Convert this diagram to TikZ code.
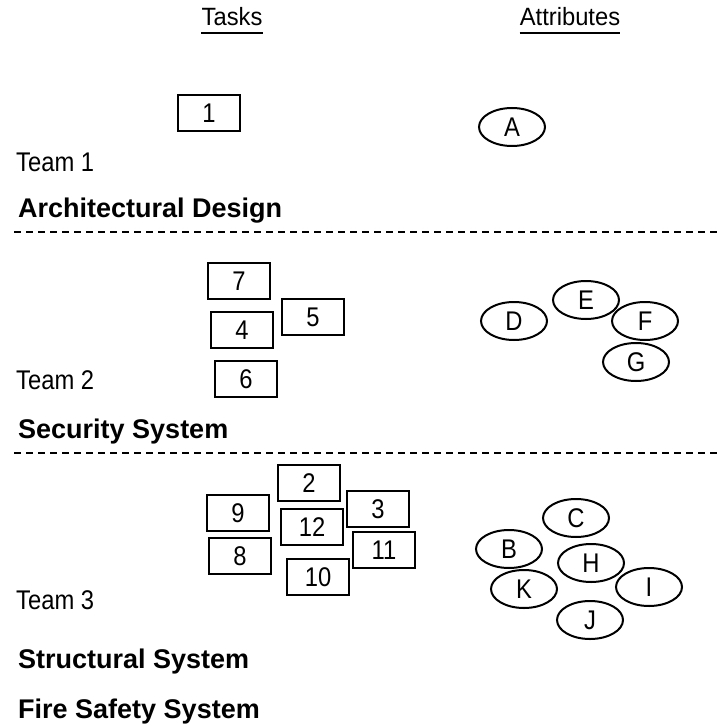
\documentclass[tikz,border=0pt]{standalone}
\usepackage{fontspec}
\setmainfont{Liberation Sans}
\newfontfamily\thinfont[FakeStretch=0.88]{Liberation Sans}
\newfontfamily\headfont[FakeStretch=0.95]{Liberation Sans}
\usetikzlibrary{shapes.geometric}
\tikzset{
  x=1pt, y=-1pt,
  task/.style={draw, line width=2pt, minimum width=62pt, minimum height=36pt, inner sep=0pt, font=\thinfont\fontsize{27}{27}\selectfont},
  attr/.style={draw, ellipse, line width=2pt, minimum width=66pt, minimum height=38pt, inner sep=0pt, font=\thinfont\fontsize{27}{27}\selectfont},
  head/.style={anchor=base, inner sep=0pt, font=\headfont\fontsize{25}{25}\selectfont},
  team/.style={anchor=base west, inner sep=0pt, font=\thinfont\fontsize{27}{27}\selectfont},
  system/.style={anchor=base west, inner sep=0pt, font=\bfseries\fontsize{27}{27}\selectfont},
  divider/.style={line width=2pt, dash pattern=on 7pt off 5pt},
  rule/.style={line width=2.5pt}
}
\begin{document}
\begin{tikzpicture}
\useasboundingbox (0,0) rectangle (721,727);

% column headings
\node[head] (tasks) at (232,26) {Tasks};
\node[head] (attrs) at (570,26) {Attributes};
\draw[rule] (tasks.south west |- 0,33) -- (tasks.south east |- 0,33);
\draw[rule] (attrs.south west |- 0,33) -- (attrs.south east |- 0,33);

% team 1
\node[task] (t1) at (209,113) {1};
\node[attr] (a) at (512,127) {A};
\node[team] (team1) at (16,172) {Team 1};
\node[system] (arch) at (18,218) {Architectural Design};
\coordinate (d1l) at (14,232);
\coordinate (d1r) at (721,232);
\draw[divider] (d1l) -- (d1r);

% team 2
\node[task] (t7) at (239,281) {7};
\node[task] (t5) at (313,317) {5};
\node[task] (t4) at (242,330) {4};
\node[task] (t6) at (246,379) {6};
\node[attr] (d) at (514,321) {D};
\node[attr] (e) at (586,300) {E};
\node[attr] (f) at (645,321) {F};
\node[attr] (g) at (636,362) {G};
\node[team] (team2) at (16,389) {Team 2};
\node[system] (sec) at (18,438) {Security System};
\coordinate (d2l) at (14,453);
\coordinate (d2r) at (721,453);
\draw[divider] (d2l) -- (d2r);

% team 3
\node[task] (t2) at (309,483) {2};
\node[task] (t9) at (238,513) {9};
\node[task] (t3) at (378,509) {3};
\node[task] (t12) at (312,527) {12};
\node[task] (t11) at (384,550) {11};
\node[task] (t8) at (240,556) {8};
\node[task] (t10) at (318,577) {10};
\node[attr] (c) at (576,518) {C};
\node[attr] (b) at (509,549) {B};
\node[attr] (h) at (591,563) {H};
\node[attr] (k) at (524,589) {K};
\node[attr] (i) at (649,587) {I};
\node[attr] (j) at (590,620) {J};
\node[team] (team3) at (16,609) {Team 3};
\node[system] (struct) at (18,668) {Structural System};
\node[system] (fire) at (18,718) {Fire Safety System};
\end{tikzpicture}
\end{document}
